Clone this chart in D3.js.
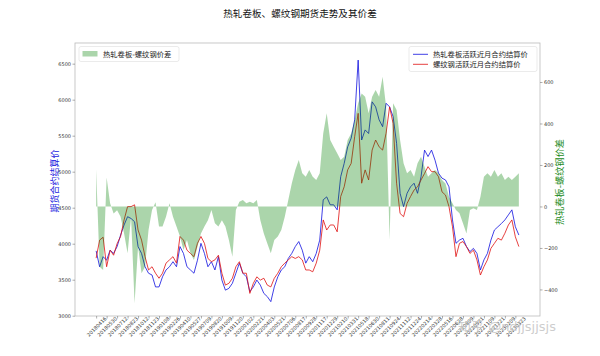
<!DOCTYPE html>
<html><head><meta charset="utf-8">
<script src="https://cdn.jsdelivr.net/npm/d3@7"></script>
<style>
body{margin:0;background:#fff;}
svg{display:block;}
text{font-family:"DejaVu Sans","Noto Sans CJK SC",sans-serif;}
</style></head>
<body><svg id="c" width="600" height="356"></svg>
<script>
// Tick labels: one every 30 trading days
const tickLabels = ["20180416","20180530","20180712","20180823","20181012","20181123","20190108","20190226","20190410","20190527",
"20190709","20190820","20191009","20191120","20200102","20200221","20200403","20200521","20200706","20200817",
"20200928","20201117","20201229","20210210","20210331","20210518","20210630","20210811","20210924","20211112",
"20211224","20220214","20220328","20220516","20220628","20220809","20220921","20221109","20221221","20230209","20230323"];
const tickStepDays = 30;
const sampleStepDays = 10; // series sampled every 10 trading days

// 热轧卷板活跃近月合约结算价 (blue)
const hcPrice = [3900,3680,3820,3770,3910,3865,3960,4120,4260,4375,
4350,4305,3960,3865,3680,3590,3565,3400,3400,3540,
3635,3680,3750,3680,3960,3865,3680,3635,3590,3770,
4005,3865,3680,3750,3635,3820,3495,3355,3380,3450,
3590,3730,3590,3540,3335,3400,3495,3425,3310,3265,
3195,3400,3540,3635,3680,3795,3865,3960,4030,3910,
3730,3820,3750,3865,4050,4610,4650,4540,4540,4470,
4930,5115,5345,5465,5720,6550,5440,5580,5530,5970,
5900,5720,5625,5950,5900,5765,5395,4700,4515,4700,
4790,4840,4700,4930,5300,5210,5300,5160,4980,4910,
4885,4790,4330,4005,4050,4075,3960,3890,3935,3865,
3635,3775,3865,4050,4190,4235,4280,4330,4400,4470,
4235,4120];
// 螺纹钢活跃近月合约结算价 (red)
const rbPrice = [3800,4050,4090,3680,3910,3840,4000,4100,4330,4515,
4515,4540,4190,4050,3820,3635,3680,3590,3520,3590,
3730,3775,3820,3730,4100,4050,3910,3865,3820,4005,
4100,4005,3795,3750,3775,3840,3590,3425,3450,3520,
3680,3750,3590,3590,3310,3450,3540,3495,3520,3425,
3400,3520,3590,3680,3730,3775,3820,3795,3820,3775,
3635,3635,3610,3730,3910,4330,4190,4260,4260,4165,
4655,4790,5025,5115,5485,5810,4840,5025,4885,5300,
5440,5345,5300,5535,5900,5670,4840,4420,4375,4560,
4655,4745,4790,4885,4975,5070,5000,5000,4930,4720,
4675,4515,4235,3820,4005,4030,3960,3865,3910,3775,
3565,3680,3775,3935,4005,4075,4050,4145,4260,4330,
4095,3960];
// 热轧卷板-螺纹钢价差 (green area, right axis)
const spread = [180,-290,-306,140,15,-34,-18,-50,-130,-226,
-50,-467,-194,-322,-290,-113,-17,20,-97,-97,
-50,15,-50,-97,-145,-210,-162,-226,-258,-194,
-130,-97,-66,-17,-81,-97,-66,-97,-162,-242,
-17,23,31,15,23,15,31,-66,-130,-178,
-226,-162,-145,-113,-50,31,111,176,224,160,
143,176,143,127,160,352,449,320,288,256,
224,240,320,352,417,497,545,529,449,529,
561,529,625,481,-160,497,465,320,208,160,
176,143,208,240,192,143,160,176,160,127,
111,47,15,-17,-33,-81,-130,-17,-9,-17,
47,143,160,143,176,143,160,127,143,127,
143,160];
const leftTicks = [3000,3500,4000,4500,5000,5500,6000,6500];
const rightTicks = [-400,-200,0,200,400,600];

const svg = d3.select("#c");
const X0=75, X1=540, Y0=43, Y1=316;
const lastIdx = (hcPrice.length-1)*sampleStepDays;
const pad = lastIdx*0.05;
const x = d3.scaleLinear().domain([-pad, lastIdx+pad]).range([X0,X1]);
const yL = d3.scaleLinear().domain([2996,6787]).range([Y1,Y0]);
const yR = d3.scaleLinear().domain([-528,788]).range([Y1,Y0]);

// title
svg.append("text").attr("x",300).attr("y",17).attr("text-anchor","middle")
  .attr("font-size","9.6px").attr("fill","#111").text("热轧卷板、螺纹钢期货走势及其价差");

// lines
const ptsHc = hcPrice.map((v,i)=>[i*sampleStepDays,v]);
const ptsRb = rbPrice.map((v,i)=>[i*sampleStepDays,v]);
const line = d3.line().x(d=>x(d[0])).y(d=>yL(d[1]));
svg.append("path").attr("d",line(ptsHc)).attr("fill","none").attr("stroke","#1010e0").attr("stroke-width",0.8);
svg.append("path").attr("d",line(ptsRb)).attr("fill","none").attr("stroke","#e01010").attr("stroke-width",0.8);

// spread area (drawn on top, translucent)
const area = d3.area().x((d,i)=>x(i*sampleStepDays)).y0(yR(0)).y1(d=>yR(d));
svg.append("path").attr("d",area(spread)).attr("fill","green").attr("fill-opacity",0.33);

// frame
svg.append("rect").attr("x",X0).attr("y",Y0).attr("width",X1-X0).attr("height",Y1-Y0)
  .attr("fill","none").attr("stroke","#bbb").attr("stroke-width",0.8);

// axes
const fmt = d3.format("d");
function styleAxis(g){
  g.selectAll(".domain").remove();
  g.selectAll("line").attr("stroke","#777").attr("stroke-width",0.6);
  g.selectAll("text").attr("font-size","5px").attr("fill","#333").attr("font-family","DejaVu Sans");
}
svg.append("g").attr("transform",`translate(${X0},0)`)
  .call(d3.axisLeft(yL).tickValues(leftTicks).tickFormat(fmt).tickSize(2.5).tickPadding(1.5)).call(styleAxis);
svg.append("g").attr("transform",`translate(${X1},0)`)
  .call(d3.axisRight(yR).tickValues(rightTicks).tickFormat(fmt).tickSize(2.5).tickPadding(1.5)).call(styleAxis);

const tickIdx = tickLabels.map((d,i)=>i*tickStepDays);
const gx = svg.append("g").attr("transform",`translate(0,${Y1})`)
  .call(d3.axisBottom(x).tickValues(tickIdx).tickSize(2.5).tickFormat((d,i)=>tickLabels[i]));
gx.select(".domain").remove();
gx.selectAll("line").attr("stroke","#777").attr("stroke-width",0.6);
gx.selectAll("text").attr("font-size","5px").attr("fill","#333")
  .attr("text-anchor","middle").attr("dominant-baseline","central")
  .attr("y",0).attr("dy",0)
  .attr("transform","translate(0,10.5) rotate(-45)");

// axis labels
svg.append("text").attr("transform","translate(58,181) rotate(-90)").attr("text-anchor","middle")
  .attr("font-size","9px").attr("fill","#2020e0").text("期货合约结算价");
svg.append("text").attr("transform","translate(563,182) rotate(-90)").attr("text-anchor","middle")
  .attr("font-size","9.2px").attr("fill","#1a8a1a").text("热轧卷板-螺纹钢价差");

// left legend
const lg = svg.append("g");
lg.append("rect").attr("x",79).attr("y",46.5).attr("width",100).attr("height",15).attr("rx",2)
  .attr("fill","#fff").attr("fill-opacity",0.8).attr("stroke","#ddd").attr("stroke-width",0.6);
lg.append("rect").attr("x",82.5).attr("y",51).attr("width",15).attr("height",5.5)
  .attr("fill","green").attr("fill-opacity",0.33);
lg.append("text").attr("x",103).attr("y",56.8).attr("font-size","7.3px").attr("fill","#222").text("热轧卷板-螺纹钢价差");

// right legend
const rg = svg.append("g");
rg.append("rect").attr("x",409).attr("y",46.5).attr("width",128).attr("height",25).attr("rx",2)
  .attr("fill","#fff").attr("fill-opacity",0.8).attr("stroke","#ddd").attr("stroke-width",0.6);
rg.append("line").attr("x1",413).attr("x2",428).attr("y1",54.3).attr("y2",54.3).attr("stroke","#1010e0").attr("stroke-width",0.8);
rg.append("line").attr("x1",413).attr("x2",428).attr("y1",64.3).attr("y2",64.3).attr("stroke","#e01010").attr("stroke-width",0.8);
rg.append("text").attr("x",433).attr("y",57).attr("font-size","7.3px").attr("fill","#222").text("热轧卷板活跃近月合约结算价");
rg.append("text").attr("x",433).attr("y",67).attr("font-size","7.3px").attr("fill","#222").text("螺纹钢活跃近月合约结算价");

// watermark
svg.append("text").attr("x",458).attr("y",331).attr("font-size","13px").attr("fill","#c4c4c4")
  .attr("fill-opacity",0.85).text("知乎 @ndjjsjjsjs");
</script></body></html>
